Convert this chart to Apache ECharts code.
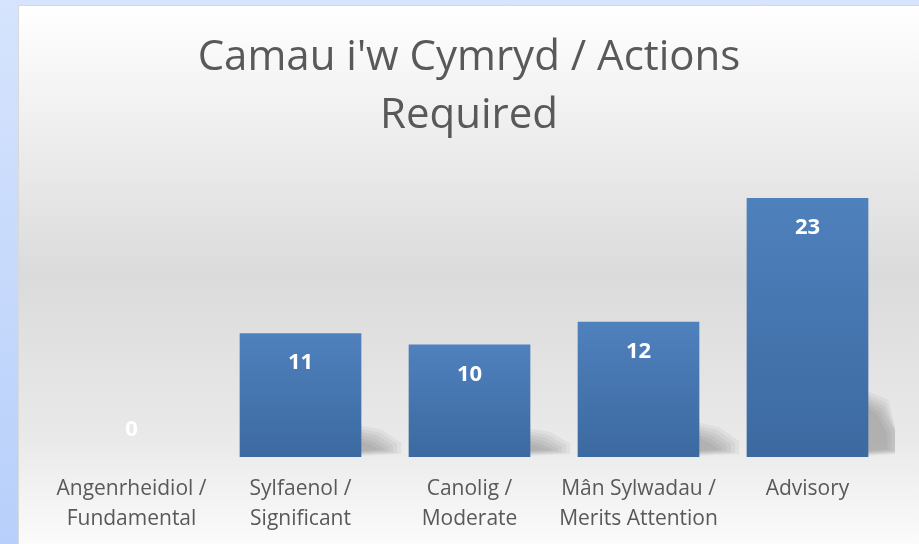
<!DOCTYPE html>
<html>
<head>
<meta charset="utf-8">
<script src="https://cdn.jsdelivr.net/npm/echarts@6/dist/echarts.min.js"></script>
<style>
  html, body { margin: 0; padding: 0; }
  body {
    width: 919px; height: 544px; overflow: hidden;
    background: linear-gradient(to bottom, #d6e4fd, #b7cffa);
    position: relative;
  }
  #chart {
    position: absolute; left: 18px; top: 5px;
    width: 900px; height: 538px;
    border: 1px solid #d9d9d9;
  }
</style>
</head>
<body>
<div id="chart"></div>
<script>
var categories = [
  'Angenrheidiol /\nFundamental',
  'Sylfaenol /\nSignificant',
  'Canolig /\nModerate',
  'Mân Sylwadau /\nMerits Attention',
  'Advisory'
];
var values = [0, 11, 10, 12, 23];
var titleText = "Camau i'w Cymryd / Actions\nRequired";

var chart = echarts.init(document.getElementById('chart'));

var barData = values.map(function (v) {
  var item = { value: v };
  if (v === 0) {
    item.label = { position: 'top', distance: 16 };
  }
  return item;
});

// soft perspective shadow behind the lower right of each bar,
// built from a few stacked translucent layers to fake a blur
function renderShadow(params, api) {
  var v = api.value(1);
  if (!v) return null;
  var base = api.coord([api.value(0), 0]);
  var top = api.coord([api.value(0), v]);
  var halfW = api.size([1, 0])[0] * 0.72 / 2;
  var right = base[0] + halfW;
  var y0 = base[1];
  var h = (y0 - top[1]) * 0.26;
  var maxRight = params.coordSys.x + params.coordSys.width + 3;
  var layers = [];
  for (var k = 0; k < 6; k++) {
    var ins = k * 3;
    var w = Math.max(8, 40 - ins * 1.4);
    var xr = Math.min(right + w, maxRight);
    layers.push({
      type: 'polygon',
      shape: {
        points: [
          [right - 4, y0 - 1 - ins * 0.3],
          [right - 4, y0 - h + ins],
          [Math.min(right + w * 0.5, xr), y0 - h * 0.85 + ins],
          [xr, y0 - h * 0.45 + ins * 0.5],
          [xr, y0 - 3 - ins * 0.3]
        ]
      },
      style: { fill: 'rgba(0,0,0,0.045)' }
    });
  }
  return { type: 'group', children: layers };
}

chart.setOption({
  backgroundColor: new echarts.graphic.LinearGradient(0, 0, 0, 1, [
    { offset: 0, color: '#ffffff' },
    { offset: 0.5, color: '#dbdbdb' },
    { offset: 0.8, color: '#e9e9e9' },
    { offset: 1, color: '#fbfbfb' }
  ]),
  title: {
    text: titleText,
    left: 'center',
    top: 18,
    textStyle: {
      fontFamily: 'Open Sans',
      fontSize: 42,
      fontWeight: 'normal',
      color: '#595959',
      lineHeight: 58
    }
  },
  grid: {
    left: 28,
    right: 27,
    top: 192,
    bottom: 87
  },
  xAxis: {
    type: 'category',
    data: categories,
    axisLine: { show: false },
    axisTick: { show: false },
    axisLabel: {
      fontFamily: 'Open Sans',
      fontSize: 21,
      color: '#595959',
      lineHeight: 30,
      margin: 17,
      interval: 0
    }
  },
  yAxis: {
    type: 'value',
    min: 0,
    max: 23,
    show: false,
    splitLine: { show: false }
  },
  series: [{
    type: 'custom',
    renderItem: renderShadow,
    data: values.map(function (v, i) { return [i, v]; }),
    clip: false,
    silent: true,
    z: 1
  }, {
    type: 'bar',
    data: barData,
    barCategoryGap: '28%',
    z: 2,
    itemStyle: {
      color: new echarts.graphic.LinearGradient(0, 0, 0, 1, [
        { offset: 0, color: '#4f81bd' },
        { offset: 1, color: '#3c69a0' }
      ])
    },
    label: {
      show: true,
      position: 'insideTop',
      distance: 19,
      color: '#ffffff',
      fontFamily: 'Open Sans',
      fontWeight: 'bold',
      fontSize: 22
    }
  }]
});
</script>
</body>
</html>
